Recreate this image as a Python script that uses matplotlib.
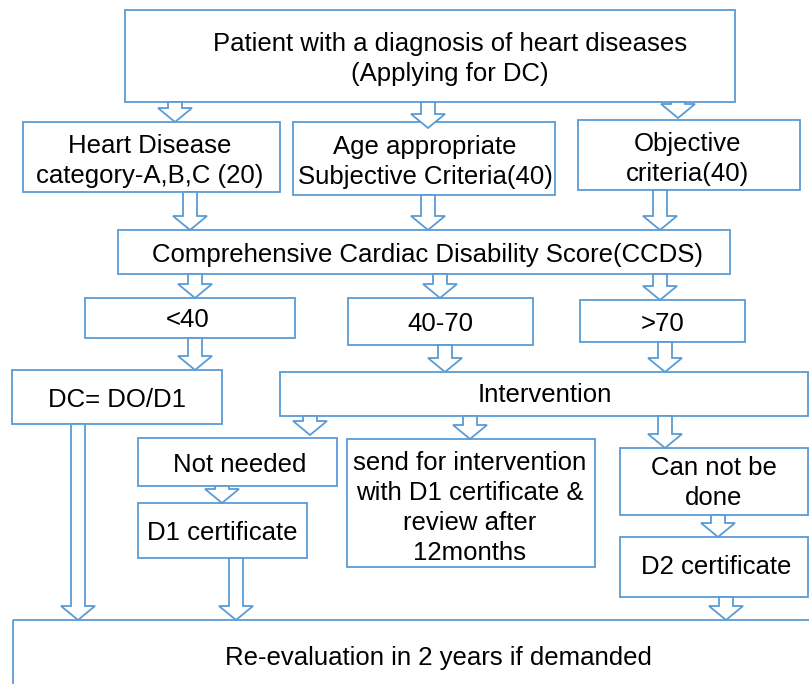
import matplotlib.pyplot as plt
from matplotlib.patches import Rectangle, Polygon

# box texts
labels = [
    "Patient with a diagnosis of heart diseases\n(Applying for DC)",
    "Heart Disease\ncategory-A,B,C (20)",
    "Age appropriate\nSubjective Criteria(40)",
    "Objective\ncriteria(40)",
    "Comprehensive Cardiac Disability Score(CCDS)",
    "<40",
    "40-70",
    ">70",
    "DC= DO/D1",
    "Intervention",
    "Not needed",
    "send for intervention\nwith D1 certificate &\nreview after\n12months",
    "Can not be\ndone",
    "D1 certificate",
    "D2 certificate",
    "Re-evaluation in 2 years if demanded",
]

# layout: x0, y0, x1, y1 (pixels, y downwards), text x, text y
boxes = [
    (125, 10, 735, 102, 450, 59),
    (23, 122, 280, 192, 150, 161),
    (293, 122, 555, 195, 425, 162),
    (578, 120, 800, 190, 688, 159),
    (118, 230, 730, 274, 428, 255),
    (85, 298, 295, 338, 188, 320),
    (348, 298, 533, 345, 440, 324),
    (580, 300, 745, 342, 663, 324),
    (12, 370, 222, 424, 117, 400),
    (280, 372, 808, 416, 545, 395),
    (138, 438, 337, 486, 240, 465),
    (347, 439, 595, 567, 470, 508),
    (620, 448, 808, 515, 714, 483),
    (138, 503, 307, 558, 222, 533),
    (620, 537, 808, 597, 716, 567),
    (13, 620, 830, 700, 438, 658),
]

# block arrows: x center, y top, y bottom
arrows = [
    (175, 102, 122), (428, 102, 128), (678, 102, 118),
    (190, 192, 230), (428, 195, 230), (660, 190, 230),
    (195, 274, 298), (440, 274, 298), (660, 274, 300),
    (195, 338, 370), (445, 345, 372), (665, 342, 372),
    (310, 416, 435), (470, 416, 439), (665, 416, 448),
    (222, 486, 503), (718, 515, 537),
    (78, 424, 620), (236, 558, 620), (726, 597, 620),
]

blue = "#5b9bd5"

fig = plt.figure(figsize=(8.09, 6.84), dpi=100)
ax = fig.add_axes([0, 0, 1, 1])
ax.set_xlim(0, 809)
ax.set_ylim(684, 0)
ax.axis("off")

for (x0, y0, x1, y1, tx, ty), lab in zip(boxes, labels):
    ax.add_patch(Rectangle((x0, y0), x1 - x0, y1 - y0, fill=False,
                           ec=blue, lw=1.3, zorder=2))
    ax.text(tx, ty, lab, ha="center", va="center", fontsize=18.5,
            family="Liberation Sans", color="black", linespacing=1.3,
            zorder=4)

for xc, yt, yb in arrows:
    sw = 7      # half shaft width
    hw = 17     # half head width
    hl = 14     # head length
    pts = [(xc - sw, yt), (xc + sw, yt), (xc + sw, yb - hl), (xc + hw, yb - hl),
           (xc, yb), (xc - hw, yb - hl), (xc - sw, yb - hl)]
    ax.add_patch(Polygon(pts, closed=True, fc="white", ec=blue, lw=1.3,
                         zorder=3))

fig.savefig("out.png", dpi=100)
